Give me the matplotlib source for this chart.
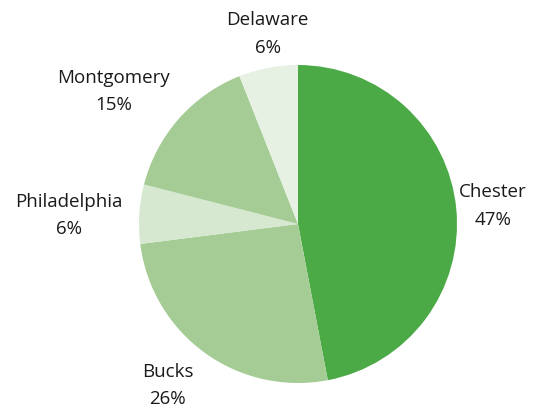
import matplotlib.pyplot as plt

counties = ['Chester', 'Bucks', 'Philadelphia', 'Montgomery', 'Delaware']
shares = [47, 26, 6, 15, 6]
colors = ['#4CAA46', '#A6CC96', '#D6E8D0', '#A6CC96', '#E6F1E3']

# label centres in pie-radius units (placed by hand like the original)
label_pos = [(1.225, 0.12), (-0.82, -1.01), (-1.44, 0.06), (-1.16, 0.84), (-0.19, 1.20)]

fig = plt.figure(figsize=(5.34, 4.10), dpi=100)
ax = fig.add_axes([0.2603, 0.0634, 0.5955, 0.7756])

wedges, texts = ax.pie(shares, colors=colors, startangle=90, counterclock=False,
                       labels=[f'{c}\n{s}%' for c, s in zip(counties, shares)],
                       wedgeprops={'linewidth': 0})
for t, (x, y) in zip(texts, label_pos):
    t.set_position((x, y))
    t.set_ha('center')
    t.set_va('center')
    t.set_fontfamily(['Open Sans', 'DejaVu Sans'])
    t.set_fontsize(13.5)
    t.set_linespacing(1.7)
    t.set_color('#1a1a1a')

ax.set_xlim(-1, 1)
ax.set_ylim(-1, 1)
ax.set_aspect('equal')

fig.savefig('out.png', dpi=100)
